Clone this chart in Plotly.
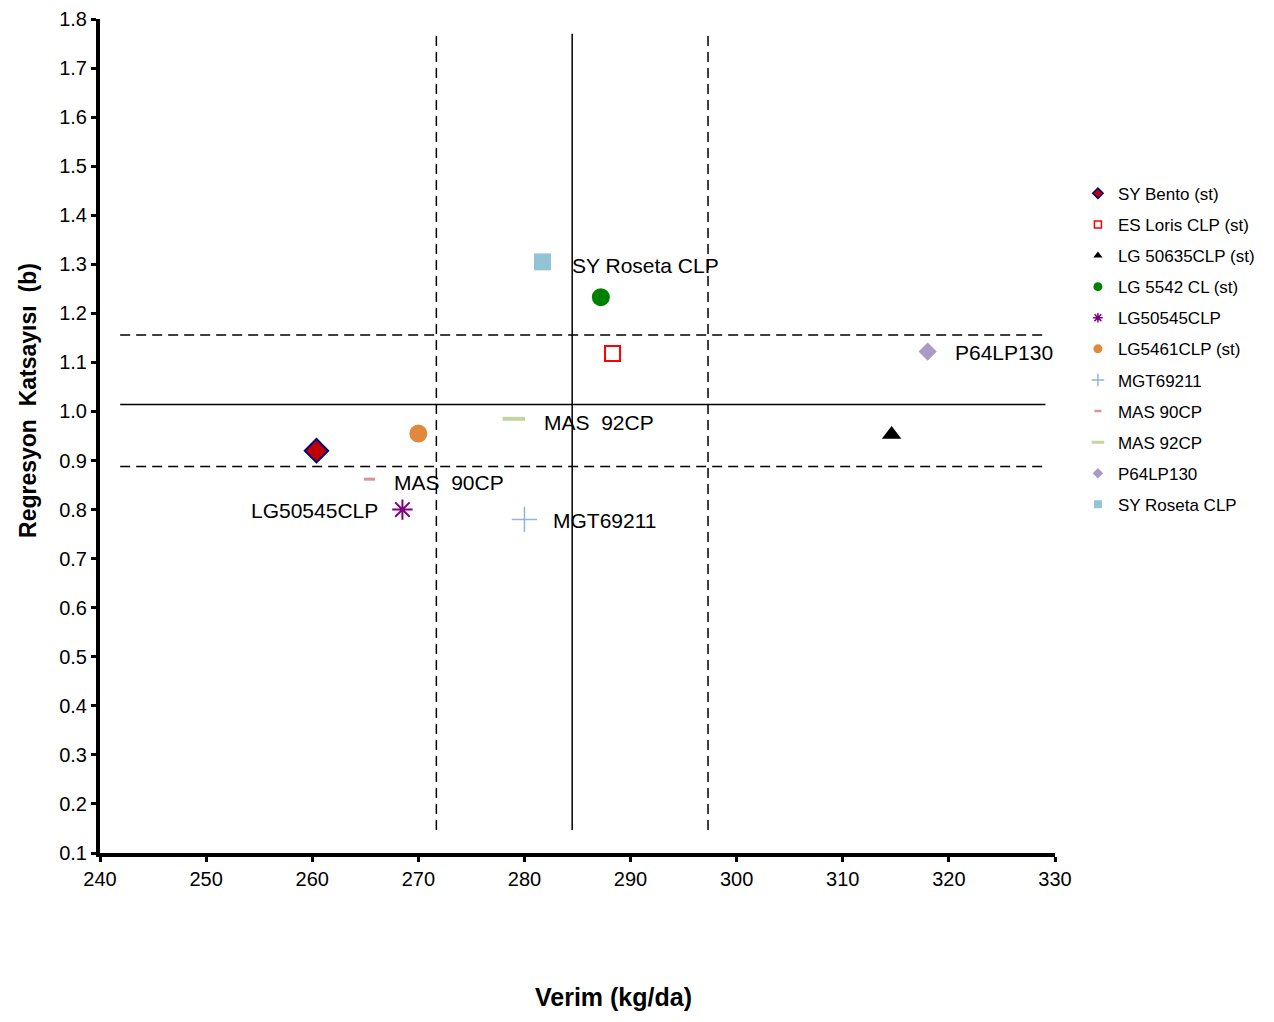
import plotly.graph_objects as go

# ---- data ----
names = ["SY Bento (st)", "ES Loris CLP (st)", "LG 50635CLP (st)", "LG 5542 CL (st)",
         "LG50545CLP", "LG5461CLP (st)", "MGT69211", "MAS 90CP", "MAS 92CP",
         "P64LP130", "SY Roseta CLP"]
yield_kg = [260.4, 288.3, 314.6, 287.2, 268.5, 270.0, 280.0, 265.4, 279.0, 318.0, 281.7]
reg_b = [0.92, 1.118, 0.953, 1.233, 0.80, 0.955, 0.78, 0.862, 0.985, 1.122, 1.305]

# labelled points: (name, text, xanchor, xshift, yshift)
labels = [("SY Roseta CLP", "SY Roseta CLP", "left", 28, -4),
          ("MAS 92CP", "MAS  92CP", "left", 28, -4),
          ("MAS 90CP", "MAS  90CP", "left", 22, -3),
          ("LG50545CLP", "LG50545CLP", "right", -22, -1),
          ("MGT69211", "MGT69211", "left", 27, -1),
          ("P64LP130", "P64LP130", "left", 25, -1)]

# reference lines: means and limits
mean_yield = 284.5
yield_limits = [271.7, 297.3]
mean_b = 1.014
b_limits = [0.888, 1.156]
vline_span = [0.147, 1.77]
hline_span = [241.9, 329.1]

x_ticks = [240, 250, 260, 270, 280, 290, 300, 310, 320, 330]
y_ticks = [0.1, 0.2, 0.3, 0.4, 0.5, 0.6, 0.7, 0.8, 0.9, 1.0, 1.1, 1.2, 1.3, 1.4, 1.5, 1.6, 1.7, 1.8]

# ---- styles ----
styles = {
    "SY Bento (st)": dict(symbol="diamond", size=18, color="#C00000", line=dict(color="#000080", width=2)),
    "ES Loris CLP (st)": dict(symbol="square-open", size=15, color="#FF0000", line=dict(color="#FF0000", width=2)),
    "LG 50635CLP (st)": dict(symbol="triangle-up", size=17, color="#000000", line=dict(width=0)),
    "LG 5542 CL (st)": dict(symbol="circle", size=18, color="#008000", line=dict(width=0)),
    "LG50545CLP": dict(symbol="asterisk-open", size=17, color="#800080", line=dict(color="#800080", width=2)),
    "LG5461CLP (st)": dict(symbol="circle", size=18, color="#E0883C", line=dict(width=0)),
    "MGT69211": dict(symbol="cross-thin-open", size=18, color="#95B3D7", line=dict(color="#95B3D7", width=1.5)),
    "MAS 90CP": dict(symbol="line-ew-open", size=8, color="#D99694", line=dict(color="#D99694", width=3)),
    "MAS 92CP": dict(symbol="line-ew-open", size=16, color="#C3D69B", line=dict(color="#C3D69B", width=4)),
    "P64LP130": dict(symbol="diamond", size=14, color="#A99BC6", line=dict(width=0)),
    "SY Roseta CLP": dict(symbol="square", size=17, color="#93C4D6", line=dict(width=0)),
}
legend_sizes = {
    "SY Bento (st)": 8, "ES Loris CLP (st)": 7, "LG 50635CLP (st)": 8, "LG 5542 CL (st)": 9,
    "LG50545CLP": 8, "LG5461CLP (st)": 9, "MGT69211": 9, "MAS 90CP": 5, "MAS 92CP": 9,
    "P64LP130": 8, "SY Roseta CLP": 8,
}
legend_line_widths = {"MAS 90CP": 2.5, "MAS 92CP": 3}

fig = go.Figure()

# reference lines
dash_pat = "10px,6px"
fig.add_trace(go.Scatter(x=[mean_yield, mean_yield], y=vline_span, mode="lines",
                         line=dict(color="black", width=1.5), showlegend=False, hoverinfo="skip"))
for v in yield_limits:
    fig.add_trace(go.Scatter(x=[v, v], y=vline_span, mode="lines",
                             line=dict(color="black", width=1.5, dash=dash_pat), showlegend=False, hoverinfo="skip"))
fig.add_trace(go.Scatter(x=hline_span, y=[mean_b, mean_b], mode="lines",
                         line=dict(color="black", width=1.5), showlegend=False, hoverinfo="skip"))
for v in b_limits:
    fig.add_trace(go.Scatter(x=hline_span, y=[v, v], mode="lines",
                             line=dict(color="black", width=1.5, dash=dash_pat), showlegend=False, hoverinfo="skip"))

# points
for n, xv, yv in zip(names, yield_kg, reg_b):
    st = styles[n]
    fig.add_trace(go.Scatter(x=[xv], y=[yv], mode="markers", name=n, showlegend=False,
                             marker=dict(symbol=st["symbol"], size=st["size"], color=st["color"], line=st["line"])))

# legend entries (small markers)
for n in names:
    st = styles[n]
    ln = dict(st["line"])
    if "width" in ln and ln["width"] > 0:
        ln["width"] = legend_line_widths.get(n, min(ln["width"], 1.5))
    fig.add_trace(go.Scatter(x=[None], y=[None], mode="markers", name=n, legendgroup=n,
                             marker=dict(symbol=st["symbol"], size=legend_sizes[n], color=st["color"], line=ln)))

# point labels
idx = {n: i for i, n in enumerate(names)}
for n, txt, xa, xs, ys in labels:
    i = idx[n]
    fig.add_annotation(x=yield_kg[i], y=reg_b[i], text=txt, showarrow=False, xanchor=xa,
                       xshift=xs, yshift=ys, font=dict(size=21, color="black"))

# axis titles
fig.add_annotation(xref="paper", yref="paper", x=0.538, y=0, yshift=-144, yanchor="middle",
                   text="<b>Verim (kg/da)</b>", showarrow=False, font=dict(size=25, color="black"))
fig.add_annotation(xref="paper", yref="paper", x=0, xshift=-72, y=0.542, xanchor="center",
                   yanchor="middle", textangle=-90,
                   text="<b>Regresyon  Katsayısı  (b)</b>", showarrow=False, font=dict(size=23, color="black"))

fig.update_xaxes(range=[240, 330], tickvals=x_ticks, ticktext=[str(t) for t in x_ticks],
                 showgrid=False, zeroline=False, showline=True, linecolor="black", linewidth=4,
                 ticks="outside", ticklen=5, tickwidth=3, tickcolor="black", automargin=False,
                 ticklabeloverflow="allow", tickfont=dict(size=20, color="black"))
fig.update_yaxes(range=[0.1, 1.8], tickvals=y_ticks, ticktext=[f"{t:.1f}" for t in y_ticks],
                 showgrid=False, zeroline=False, showline=True, linecolor="black", linewidth=4,
                 ticks="outside", ticklen=5, tickwidth=3, tickcolor="black", automargin=False,
                 ticklabeloverflow="allow", tickfont=dict(size=20, color="black"))

fig.update_layout(
    width=1274, height=1022,
    margin=dict(l=92, r=227, t=11, b=177, autoexpand=False),
    plot_bgcolor="white", paper_bgcolor="white",
    font=dict(family="Liberation Sans, Arial, sans-serif", color="black"),
    legend=dict(x=1.024, y=0.812, xanchor="left", yanchor="top", font=dict(size=17),
                tracegroupgap=6, itemwidth=30, bgcolor="rgba(0,0,0,0)"),
)

fig.write_html("out.html")
